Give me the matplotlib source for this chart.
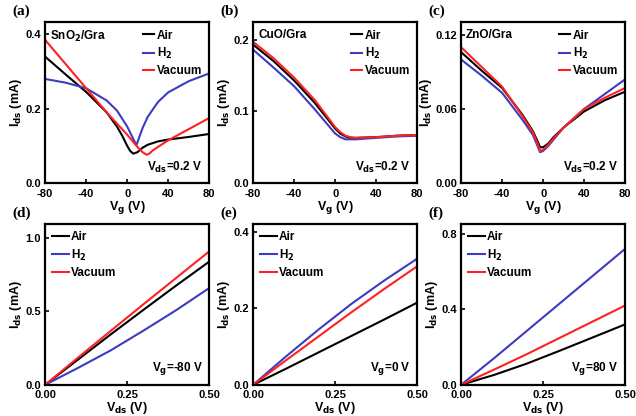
import matplotlib
matplotlib.use("Agg")
import matplotlib.pyplot as plt

# transfer curves, Vds = 0.2 V
vg_a_air = [-80, -60, -40, -20, -10, -5, 0, 3, 6, 10, 15, 20, 30, 40, 60, 80]
id_a_air = [0.340, 0.292, 0.245, 0.190, 0.152, 0.128, 0.100, 0.086, 0.079, 0.083, 0.095, 0.103, 0.112, 0.117, 0.124, 0.132]
vg_a_h2 = [-80, -60, -40, -20, -10, 0, 5, 9, 12, 15, 20, 30, 40, 60, 80]
id_a_h2 = [0.280, 0.270, 0.255, 0.222, 0.195, 0.152, 0.124, 0.102, 0.125, 0.148, 0.178, 0.218, 0.244, 0.274, 0.295]
vg_a_vac = [-80, -60, -40, -20, 0, 10, 15, 19, 22, 25, 40, 60, 80]
id_a_vac = [0.385, 0.320, 0.255, 0.190, 0.130, 0.097, 0.083, 0.076, 0.080, 0.088, 0.115, 0.145, 0.175]

vg_b = [-80, -60, -40, -20, -10, 0, 5, 10, 15, 20, 40, 60, 80]
id_b_air = [0.193, 0.170, 0.143, 0.112, 0.094, 0.076, 0.069, 0.065, 0.063, 0.063, 0.064, 0.066, 0.067]
id_b_h2 = [0.186, 0.161, 0.135, 0.103, 0.086, 0.069, 0.064, 0.061, 0.061, 0.061, 0.063, 0.065, 0.066]
id_b_vac = [0.197, 0.174, 0.147, 0.116, 0.097, 0.078, 0.071, 0.066, 0.064, 0.063, 0.064, 0.066, 0.067]

vg_c = [-80, -60, -40, -20, -10, -5, -3, 0, 5, 10, 20, 40, 60, 80]
id_c_air = [0.106, 0.091, 0.077, 0.055, 0.042, 0.033, 0.029, 0.029, 0.032, 0.037, 0.045, 0.058, 0.067, 0.074]
id_c_h2 = [0.100, 0.087, 0.073, 0.051, 0.039, 0.029, 0.025, 0.026, 0.030, 0.035, 0.045, 0.060, 0.072, 0.084]
id_c_vac = [0.110, 0.094, 0.078, 0.054, 0.041, 0.031, 0.026, 0.027, 0.031, 0.036, 0.045, 0.060, 0.069, 0.077]

# output curves
vds = [0.0, 0.1, 0.2, 0.3, 0.4, 0.5]
id_d_air = [0.0, 0.172, 0.344, 0.512, 0.678, 0.84]
id_d_h2 = [0.0, 0.115, 0.235, 0.370, 0.510, 0.66]
id_d_vac = [0.0, 0.185, 0.368, 0.550, 0.730, 0.91]
id_e_air = [0.0, 0.042, 0.085, 0.128, 0.171, 0.215]
id_e_h2 = [0.0, 0.074, 0.145, 0.212, 0.273, 0.33]
id_e_vac = [0.0, 0.064, 0.127, 0.190, 0.251, 0.31]
id_f_air = [0.0, 0.052, 0.112, 0.180, 0.250, 0.32]
id_f_h2 = [0.0, 0.140, 0.285, 0.430, 0.575, 0.72]
id_f_vac = [0.0, 0.080, 0.162, 0.248, 0.334, 0.42]

labels = ['Air', 'H$_2$', 'Vacuum']
colors = ['black', '#3c3cc0', '#ff2020']

plt.rcParams['font.family'] = 'Liberation Sans'
plt.rcParams['font.weight'] = 'bold'
plt.rcParams['axes.labelweight'] = 'bold'
plt.rcParams['mathtext.default'] = 'bf'
plt.rcParams['axes.unicode_minus'] = False

fig = plt.figure(figsize=(6.36, 4.16), dpi=100)
lefts = [0.071, 0.398, 0.725]
bottoms = [0.560, 0.075]
w, h = 0.258, 0.386

panels = [
    ('(a)', [(vg_a_air, id_a_air), (vg_a_h2, id_a_h2), (vg_a_vac, id_a_vac)], 'gate', 0.432, [0.0, 0.2, 0.4], '{:.1f}', 'SnO$_2$/Gra', 'V$_{ds}$=0.2 V'),
    ('(b)', [(vg_b, id_b_air), (vg_b, id_b_h2), (vg_b, id_b_vac)], 'gate', 0.224, [0.0, 0.1, 0.2], '{:.1f}', 'CuO/Gra', 'V$_{ds}$=0.2 V'),
    ('(c)', [(vg_c, id_c_air), (vg_c, id_c_h2), (vg_c, id_c_vac)], 'gate', 0.13, [0.0, 0.06, 0.12], '{:.2f}', 'ZnO/Gra', 'V$_{ds}$=0.2 V'),
    ('(d)', [(vds, id_d_air), (vds, id_d_h2), (vds, id_d_vac)], 'out', 1.095, [0.0, 0.5, 1.0], '{:.1f}', None, 'V$_g$=-80 V'),
    ('(e)', [(vds, id_e_air), (vds, id_e_h2), (vds, id_e_vac)], 'out', 0.42, [0.0, 0.2, 0.4], '{:.1f}', None, 'V$_g$=0 V'),
    ('(f)', [(vds, id_f_air), (vds, id_f_h2), (vds, id_f_vac)], 'out', 0.85, [0.0, 0.4, 0.8], '{:.1f}', None, 'V$_g$=80 V'),
]

for i, (tag, series, kind, ymax, yt, fmt, name, cond) in enumerate(panels):
    ax = fig.add_axes([lefts[i % 3], bottoms[i // 3], w, h])
    for (x, y), lab, c in zip(series, labels, colors):
        ax.plot(x, y, color=c, lw=1.5, label=lab)
    if kind == 'gate':
        ax.set_xlim(-80, 80)
        ax.set_xticks([-80, -40, 0, 40, 80])
        ax.set_xlabel('V$_g$ (V)', fontsize=9, labelpad=0)
        ax.legend(loc='upper right', frameon=False, fontsize=8.5, handlelength=1.0,
                  handletextpad=0.2, labelspacing=0.35, borderaxespad=0.2)
        ax.text(0.03, 0.96, name, transform=ax.transAxes, fontsize=8.5, va='top', ha='left')
    else:
        ax.set_xlim(0, 0.5)
        ax.set_xticks([0, 0.25, 0.5])
        ax.set_xticklabels(['0.00', '0.25', '0.50'])
        ax.set_xlabel('V$_{ds}$ (V)', fontsize=9, labelpad=0)
        ax.legend(loc='upper left', frameon=False, fontsize=8.5, handlelength=1.4,
                  handletextpad=0.2, labelspacing=0.35, borderaxespad=0.2)
    ax.text(0.96, 0.05, cond, transform=ax.transAxes, fontsize=8.5, va='bottom', ha='right')
    ax.set_ylim(0, ymax)
    ax.set_yticks(yt)
    ax.set_yticklabels([fmt.format(v) for v in yt])
    ax.set_ylabel('I$_{ds}$ (mA)', fontsize=9, labelpad=1)
    ax.tick_params(direction='in', length=3, width=1.2, labelsize=8)
    ax.tick_params(axis='x', pad=4)
    ax.tick_params(axis='y', pad=3)
    for s in ax.spines.values():
        s.set_linewidth(1.6)
    ax.text(-0.2, 1.07, tag, transform=ax.transAxes, fontsize=11, fontweight='bold',
            family='Liberation Serif', va='center', ha='left')

fig.savefig('out.png', dpi=100)
